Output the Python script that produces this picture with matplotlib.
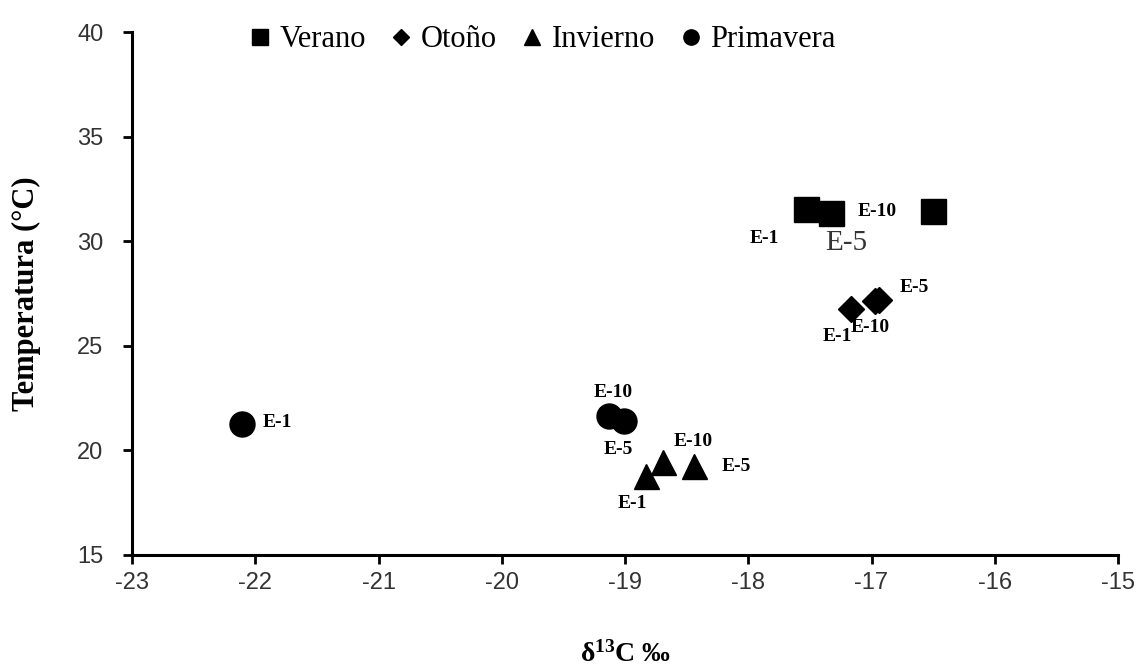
import matplotlib
matplotlib.use('Agg')
from matplotlib import pyplot as plt
from matplotlib.lines import Line2D

plt.rcParams['mathtext.fontset'] = 'custom'
plt.rcParams['mathtext.rm'] = 'Liberation Serif'
plt.rcParams['mathtext.bf'] = 'Liberation Serif:bold'
plt.rcParams['axes.unicode_minus'] = False

# data: delta13C vs temperature per season, sites E-1, E-5, E-10
sites = ['E-1', 'E-5', 'E-10']
verano_x = [-17.53, -17.33, -16.50]
verano_y = [31.52, 31.35, 31.44]
otono_x = [-17.17, -16.94, -16.97]
otono_y = [26.74, 27.21, 27.16]
invierno_x = [-18.83, -18.44, -18.69]
invierno_y = [18.78, 19.25, 19.45]
primavera_x = [-22.11, -19.01, -19.13]
primavera_y = [21.25, 21.41, 21.64]

# label offsets in pixels (E-1, E-5, E-10)
verano_off = [(-42, -29), (15, -30), (-56, 0)]
otono_off = [(-13, -27), (35, 12), (-5, -27)]
invierno_off = [(-14, -28), (42, 0), (30, 20)]
primavera_off = [(36, 2), (-5, -29), (4, 24)]

serif = ['Liberation Serif', 'DejaVu Serif']

fig = plt.figure(figsize=(11.4, 6.71), dpi=100)
ax = fig.add_axes([0.1158, 0.1729, 0.9807 - 0.1158, 0.9523 - 0.1729])

series = [
    (verano_x, verano_y, 's', 18, verano_off),
    (otono_x, otono_y, 'D', 13, otono_off),
    (invierno_x, invierno_y, '^', 18, invierno_off),
    (primavera_x, primavera_y, 'o', 18, primavera_off),
]
for xs, ys, mk, ms, offs in series:
    ax.plot(xs, ys, linestyle='none', marker=mk, markersize=ms, color='black')
    for i, s in enumerate(sites):
        if mk == 's' and s == 'E-5':
            ax.annotate(s, (xs[i], ys[i]), xytext=offs[i], textcoords='offset pixels',
                        ha='center', va='center', family=serif, fontsize=21, color='#333333')
        else:
            ax.annotate(s, (xs[i], ys[i]), xytext=offs[i], textcoords='offset pixels',
                        ha='center', va='center', family=serif, fontsize=14, fontweight='bold')

ax.set_xlim(-23, -15)
ax.set_ylim(15, 40)
ax.set_xticks(range(-23, -14))
ax.set_yticks(range(15, 41, 5))

ax.spines['top'].set_visible(False)
ax.spines['right'].set_visible(False)
for sp in ['left', 'bottom']:
    ax.spines[sp].set_linewidth(2.2)
ax.tick_params(direction='out', length=6.5, width=2, colors='black',
               labelcolor='#333333', labelsize=17)
ax.tick_params(axis='x', pad=6)
ax.tick_params(axis='y', pad=14)
for lab in ax.get_xticklabels() + ax.get_yticklabels():
    lab.set_family(['Liberation Sans', 'DejaVu Sans'])

ax.set_ylabel('Temperatura (°C)', family=serif, fontsize=22, fontweight='bold', labelpad=26)
ax.set_xlabel(r'$\mathbf{δ^{13}C}$ ‰', family=serif, fontsize=20, fontweight='bold', labelpad=34)

handles = [
    Line2D([], [], linestyle='none', marker='s', markersize=11, color='black', label='Verano'),
    Line2D([], [], linestyle='none', marker='D', markersize=8, color='black', label='Otoño'),
    Line2D([], [], linestyle='none', marker='^', markersize=11, color='black', label='Invierno'),
    Line2D([], [], linestyle='none', marker='o', markersize=11, color='black', label='Primavera'),
]
ax.legend(handles=handles, loc='center', bbox_to_anchor=(0.417, 0.985), ncol=4,
          frameon=False, prop={'family': serif, 'size': 22}, handlelength=0.6,
          handletextpad=0.35, columnspacing=0.85)

fig.savefig('out.png', dpi=100)
